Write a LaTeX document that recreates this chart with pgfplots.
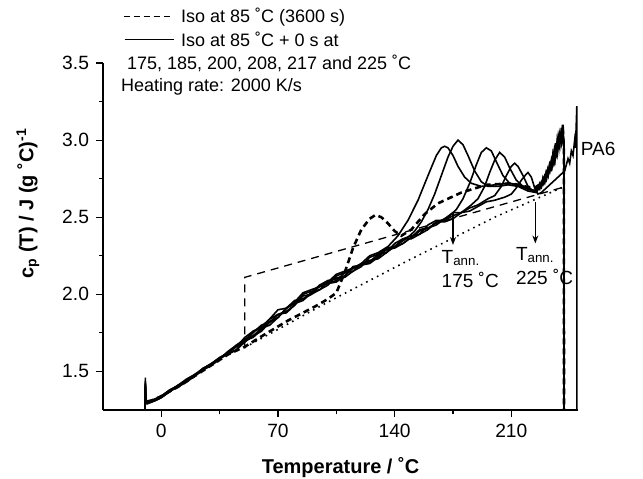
\documentclass[border=0pt]{standalone}
\usepackage{fontspec}
\setmainfont{Liberation Sans}
\usepackage{pgfplots}
\pgfplotsset{compat=1.18}
\usetikzlibrary{arrows.meta}

\begin{document}
\begin{tikzpicture}
\useasboundingbox (-51.5pt,-34pt) rectangle (270pt,205pt);
\begin{axis}[
scale only axis,
width=237.5pt,
height=173.5pt,
xmin=-35, xmax=250,
ymin=1.25, ymax=3.5,
axis x line*=bottom,
axis y line*=left,
axis line style={-, line width=0.6pt},
xtick={0,70,140,210},
ytick={1.5,2.0,2.5,3.0,3.5},
minor x tick num=1,
minor y tick num=1,
tick align=outside,
major tick length=3.5pt,
minor tick length=2pt,
tick style={black, line width=0.6pt},
tick label style={font=\fontsize{9.6}{11}\selectfont},
/pgf/number format/assume math mode=true,
yticklabel style={/pgf/number format/.cd, fixed, fixed zerofill, precision=1},
xlabel={\textbf{Temperature / ˚C}},
ylabel={\textbf{c\textsubscript{p} (T) / J (g ˚C)\textsuperscript{-1}}},
label style={font=\fontsize{9.5}{11}\selectfont},
every axis y label/.style={at={(axis description cs:-0.158,0.595)}, rotate=90, anchor=center},
every axis x label/.style={at={(axis description cs:0.5,-0.167)}, anchor=center},
clip=false,
]
% dotted baseline
\addplot[black, line width=0.8pt, dash pattern=on 0.8pt off 2.2pt] coordinates {(50,1.655) (100,1.95) (150,2.23) (200,2.50) (242,2.70)};
% thin dashed baseline
\addplot[black, line width=0.65pt, dash pattern=on 4pt off 3pt] coordinates {(50,1.65) (50,2.11) (243,2.70)};
% Iso at 85 C (3600 s)
\addplot[black, line width=1.3pt, dash pattern=on 3pt off 2pt] coordinates {
(-8,1.30) (0,1.34) (10,1.40) (20,1.47) (30,1.54) (40,1.61) (50,1.66) (62,1.74) (76,1.83) (92,1.92) (100,1.97) (105,2.01) (110,2.14) (115,2.30) (120,2.42) (125,2.49) (128.5,2.515) (132,2.50) (136,2.46) (140,2.41) (144,2.38) (150,2.42) (158,2.52) (166,2.59) (180,2.66) (195,2.71) (210,2.72) (218,2.70) (224,2.69) (228,2.72) (232,2.80) (236,2.90) (239,3.00) (241,3.05) (241.5,2.95) (241.6,1.25)};
% Iso at 85 C + 0 s at Tann
\addplot[black, line width=0.8pt] coordinates {
(-9.7,1.25) (-9.6,1.46) (-9.3,1.31) (-8.5,1.29) (-6,1.30) (-2,1.32) (2,1.35) (6,1.38) (10,1.40) (14,1.43) (18,1.46) (22,1.49) (26,1.52) (30,1.55) (34,1.58) (38,1.61) (42,1.64) (46,1.67) (50,1.72) (55,1.76) (60,1.79) (65,1.84) (70,1.90) (75,1.91) (80,1.95) (85,2.01) (90,2.03) (95,2.05) (100,2.08) (105,2.13) (110,2.15) (115,2.17) (120,2.20) (125,2.25) (130,2.27) (136,2.31) (142,2.38) (148,2.48) (154,2.61) (160,2.77) (165,2.90) (168,2.95) (170,2.96) (172,2.95) (175,2.90) (178,2.83) (182,2.76) (186,2.72) (192,2.70) (200,2.71) (208,2.72) (214,2.71) (220,2.68) (224,2.67)
(226,2.70) (227,2.69) (228,2.73) (229,2.72) (230,2.77) (231,2.75) (232,2.82) (233,2.80) (234,2.87) (234.5,2.84) (235,2.92) (236,2.89) (236.5,2.98) (237,2.93) (238,3.02) (238.5,2.96) (239,3.05) (239.5,2.99) (240,3.08) (240.5,3.01) (241,3.10) (241.5,2.97) (241.6,1.25)};
\addplot[black, line width=0.8pt] coordinates {
(-9.7,1.25) (-9.6,1.44) (-9.2,1.30) (-8,1.30) (-4,1.31) (0,1.33) (5,1.37) (10,1.41) (15,1.44) (20,1.47) (25,1.51) (30,1.54) (35,1.58) (40,1.62) (45,1.66) (50,1.69) (55,1.73) (60,1.78) (65,1.82) (70,1.85) (75,1.91) (80,1.95) (85,1.97) (90,2.00) (95,2.06) (100,2.09) (105,2.10) (110,2.12) (115,2.18) (120,2.19) (125,2.21) (130,2.25) (135,2.29) (140,2.31) (144,2.34) (148,2.37) (152,2.41) (156,2.47) (160,2.55) (164,2.65) (168,2.77) (172,2.89) (175,2.96) (178,3.00) (181,2.97) (184,2.90) (188,2.80) (192,2.73) (196,2.70) (202,2.70) (208,2.71) (214,2.70) (220,2.67) (225,2.66)
(226,2.68) (227,2.72) (228,2.70) (229,2.76) (230,2.74) (231,2.80) (232,2.78) (233,2.85) (234,2.83) (235,2.90) (235.5,2.87) (236,2.95) (237,2.92) (237.5,3.00) (238,2.97) (239,3.04) (239.5,2.98) (240,3.06) (240.5,3.00) (241,3.05) (241.5,2.95) (241.6,1.25)};
\addplot[black, line width=0.8pt] coordinates {
(-9.7,1.25) (-9.6,1.42) (-9.2,1.31) (-8,1.31) (-4,1.32) (0,1.34) (5,1.38) (10,1.41) (15,1.45) (20,1.48) (25,1.52) (30,1.55) (35,1.59) (40,1.61) (45,1.64) (50,1.70) (55,1.76) (60,1.78) (65,1.80) (70,1.85) (75,1.91) (80,1.94) (85,1.96) (90,2.01) (95,2.06) (100,2.07) (105,2.08) (110,2.12) (115,2.17) (120,2.19) (125,2.20) (130,2.24) (135,2.29) (140,2.30) (145,2.33) (150,2.37) (155,2.41) (160,2.43) (166,2.47) (172,2.50) (177,2.55) (181,2.62) (185,2.72) (189,2.84) (192,2.92) (195,2.95) (198,2.93) (201,2.86) (205,2.77) (209,2.72) (215,2.71) (220,2.69) (224,2.67)
(226,2.69) (227,2.68) (228,2.72) (229,2.71) (230,2.76) (231,2.74) (232,2.81) (233,2.79) (234,2.86) (235,2.84) (235.5,2.91) (236,2.88) (237,2.96) (237.5,2.92) (238,3.00) (239,2.97) (239.5,3.04) (240,2.99) (240.5,3.07) (241,3.02) (241.5,2.96) (241.6,1.25)};
\addplot[black, line width=0.8pt] coordinates {
(-9.7,1.25) (-9.6,1.40) (-9.2,1.30) (-8,1.30) (-4,1.31) (0,1.34) (5,1.37) (10,1.40) (15,1.44) (20,1.48) (25,1.51) (30,1.55) (35,1.58) (40,1.62) (45,1.67) (50,1.70) (55,1.72) (60,1.77) (65,1.84) (70,1.87) (75,1.89) (80,1.93) (85,2.00) (90,2.02) (95,2.03) (100,2.06) (105,2.12) (110,2.14) (115,2.15) (120,2.18) (125,2.24) (130,2.26) (135,2.27) (140,2.31) (145,2.36) (150,2.38) (155,2.39) (160,2.42) (165,2.47) (170,2.47) (175,2.49) (180,2.53) (186,2.58) (190,2.62) (194,2.70) (197,2.79) (200,2.87) (203,2.92) (206,2.89) (209,2.82) (213,2.74) (217,2.70) (221,2.68) (225,2.67)
(226,2.68) (227,2.71) (228,2.70) (229,2.75) (230,2.73) (231,2.79) (232,2.77) (233,2.84) (234,2.82) (235,2.89) (236,2.86) (236.5,2.94) (237,2.91) (238,2.99) (238.5,2.95) (239,3.03) (240,2.98) (240.5,3.06) (241,3.03) (241.5,2.96) (241.6,1.25)};
\addplot[black, line width=0.8pt] coordinates {
(-9.7,1.25) (-9.6,1.43) (-9.2,1.31) (-8,1.30) (-4,1.31) (0,1.33) (5,1.37) (10,1.41) (15,1.44) (20,1.47) (25,1.51) (30,1.54) (35,1.58) (40,1.63) (45,1.67) (50,1.71) (55,1.73) (60,1.76) (65,1.82) (70,1.87) (75,1.88) (80,1.93) (85,1.99) (90,2.00) (95,2.03) (100,2.08) (105,2.11) (110,2.11) (115,2.15) (120,2.20) (125,2.22) (130,2.23) (135,2.27) (140,2.33) (145,2.36) (150,2.36) (155,2.39) (160,2.45) (165,2.48) (170,2.48) (175,2.51) (180,2.53) (185,2.56) (190,2.58) (196,2.62) (200,2.64) (204,2.70) (207,2.77) (210,2.83) (212,2.85) (214,2.83) (217,2.77) (220,2.70) (223,2.67) (226,2.68)
(227,2.70) (228,2.69) (229,2.74) (230,2.72) (231,2.78) (232,2.76) (233,2.83) (234,2.81) (235,2.88) (236,2.85) (237,2.93) (237.5,2.89) (238,2.98) (239,2.95) (239.5,3.03) (240,2.98) (240.5,3.05) (241,3.01) (241.5,2.96) (241.6,1.25)};
\addplot[black, line width=0.8pt] coordinates {
(-9.7,1.25) (-9.6,1.41) (-9.2,1.30) (-8,1.30) (-4,1.32) (0,1.34) (5,1.38) (10,1.40) (15,1.43) (20,1.47) (25,1.52) (30,1.55) (35,1.59) (40,1.62) (45,1.64) (50,1.69) (55,1.75) (60,1.80) (65,1.82) (70,1.85) (75,1.91) (80,1.96) (85,1.97) (90,2.01) (95,2.05) (100,2.07) (105,2.09) (110,2.14) (115,2.17) (120,2.19) (125,2.21) (130,2.26) (135,2.30) (140,2.31) (145,2.33) (150,2.37) (155,2.42) (160,2.43) (165,2.45) (170,2.49) (175,2.53) (180,2.53) (185,2.54) (190,2.57) (195,2.60) (200,2.61) (206,2.63) (210,2.65) (213,2.69) (216,2.74) (219,2.78) (220,2.79) (222,2.76) (224,2.69) (226,2.65) (228,2.66) (230,2.68) (234,2.72) (238,2.76) (242,2.80) (244,2.88) (245,2.85) (246,2.93) (247,2.90) (248,3.00) (248.5,2.95) (249.3,3.22) (249.35,1.25)};
% annotations
\draw[-{Stealth[length=4pt,width=3pt]}, line width=0.6pt] (axis cs:175,2.53) -- (axis cs:175,2.32);
\draw[-{Stealth[length=4pt,width=3pt]}, line width=0.6pt] (axis cs:224.4,2.60) -- (axis cs:224.4,2.33);
\node[anchor=north west, align=left, inner sep=0pt, font=\fontsize{9.5}{11}\selectfont] at (axis cs:168,2.29) {T\textsubscript{ann.}\\[1pt]175 ˚C};
\node[anchor=north west, align=left, inner sep=0pt, font=\fontsize{9.5}{11}\selectfont] at (axis cs:212.6,2.31) {T\textsubscript{ann.}\\[1pt]225 ˚C};
\node[anchor=west, inner sep=0pt, font=\fontsize{9.5}{11}\selectfont] at (axis cs:251.5,2.94) {PA6};
% legend
\draw[black, line width=0.6pt, dash pattern=on 3pt off 2pt] (axis cs:-22.6,3.80) -- (axis cs:5.6,3.80);
\node[anchor=west, inner sep=0pt, font=\fontsize{9}{11}\selectfont] at (axis cs:11.6,3.80) {Iso at 85 ˚C (3600 s)};
\draw[black, line width=0.6pt] (axis cs:-22,3.651) -- (axis cs:7.4,3.651);
\node[anchor=west, inner sep=0pt, font=\fontsize{9}{11}\selectfont] at (axis cs:11.6,3.651) {Iso at 85 ˚C + 0 s at};
\node[anchor=west, inner sep=0pt, font=\fontsize{9}{11}\selectfont] at (axis cs:-20.8,3.495) {175, 185, 200, 208, 217 and 225 ˚C};
\node[anchor=west, inner sep=0pt, font=\fontsize{9}{11}\selectfont] at (axis cs:-24.4,3.346) {Heating rate: 2000 K/s};
\end{axis}
\end{tikzpicture}
\end{document}
